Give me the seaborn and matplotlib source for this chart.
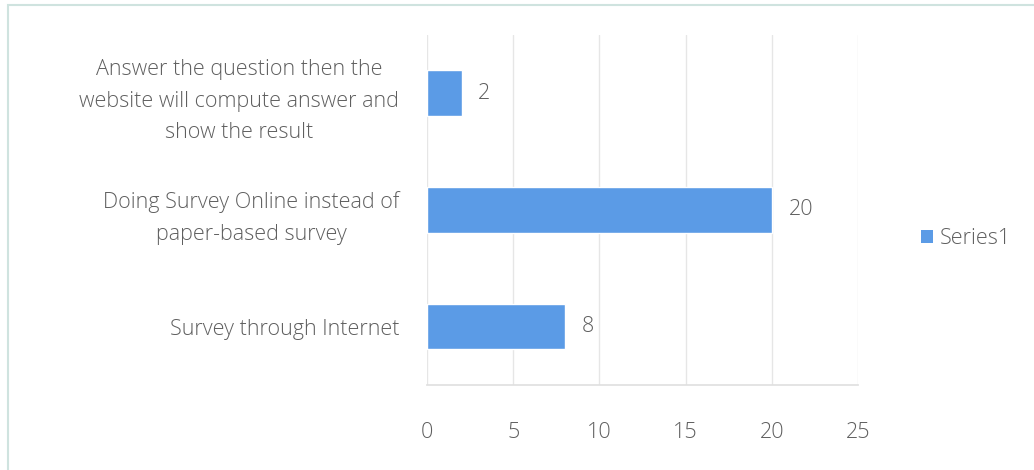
import matplotlib
matplotlib.use("Agg")
import pandas as pd
import seaborn as sns
import matplotlib.pyplot as plt
from matplotlib.patches import Rectangle, Patch

# data
categories = [
    "Answer the question then the\nwebsite will compute answer and\nshow the result",
    "Doing Survey Online instead of\npaper-based survey",
    "Survey through Internet",
]
values = [2, 20, 8]
series_name = "Series1"
x_ticks = [0, 5, 10, 15, 20, 25]

bar_color = "#5b9be6"
text_color = "#5f5f5f"
fs = 15.5

sns.set_theme(style="white")
plt.rcParams["font.family"] = ["Open Sans", "DejaVu Sans"]
plt.rcParams["font.weight"] = "light"

df = pd.DataFrame({"label": categories, "value": values})

fig = plt.figure(figsize=(10.34, 4.70), dpi=100)
ax = fig.add_axes([0.413, 0.181, 0.4168, 0.745])

sns.barplot(data=df, y="label", x="value", color=bar_color, width=0.39,
            saturation=1, ax=ax, orient="h")

ax.set_xlim(0, 25)
ax.set_xticks(x_ticks)
ax.set_ylim(2.5, -0.5)
ax.grid(axis="x", color="#e6e6e6", linewidth=1)
ax.set_axisbelow(True)
for s in ["top", "right", "left"]:
    ax.spines[s].set_visible(False)
ax.spines["bottom"].set_color("#e0e0e0")
ax.set_xlabel("")
ax.set_ylabel("")
ax.tick_params(axis="x", length=0, pad=27, labelsize=fs, labelcolor=text_color)
ax.tick_params(axis="y", length=0, pad=20, labelsize=fs, labelcolor=text_color)
for t in ax.get_yticklabels():
    t.set_horizontalalignment("right")
    t.set_multialignment("center")
    t.set_linespacing(1.68)

# value labels
for cont in ax.containers:
    ax.bar_label(cont, padding=12, fontsize=fs, color=text_color)

# legend
handles = [Patch(facecolor=bar_color, edgecolor="none", label=series_name)]
fig.legend(handles=handles, loc="center left", bbox_to_anchor=(0.872, 0.493),
           frameon=False, fontsize=fs, labelcolor=text_color,
           handlelength=0.55, handleheight=0.55, handletextpad=0.3)

# outer chart border
fig.patches.append(Rectangle((8 / 1034, -0.1), 1.2, (465 / 470) + 0.1,
                             transform=fig.transFigure, fill=False,
                             edgecolor="#cfe3df", linewidth=1.5))

fig.savefig("out.png", dpi=100, facecolor="white")
